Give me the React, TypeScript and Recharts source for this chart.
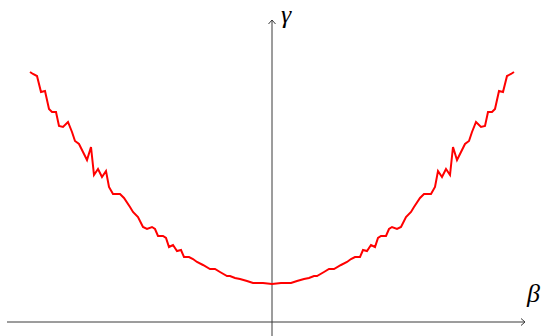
import { LineChart, Line, XAxis, YAxis, ReferenceLine } from "recharts";

// sampled curve, left to right
const betas = [
  -2.42, -2.39, -2.35, -2.31, -2.27, -2.23, -2.2, -2.16, -2.13, -2.09, -2.04, -2.0, -1.97, -1.93,
  -1.89, -1.85, -1.81, -1.78, -1.74, -1.7, -1.66, -1.63, -1.59, -1.52, -1.48, -1.42, -1.39, -1.34,
  -1.29, -1.25, -1.2, -1.17, -1.14, -1.09, -1.06, -1.03, -0.99, -0.95, -0.91, -0.88, -0.83, -0.79,
  -0.75, -0.69, -0.62, -0.57, -0.52, -0.45, -0.42, -0.37, -0.32, -0.25, -0.19, -0.09, 0,
  0.09, 0.19, 0.25, 0.32, 0.37, 0.42, 0.45, 0.52, 0.57, 0.62, 0.69, 0.75, 0.79, 0.83, 0.88, 0.91,
  0.95, 0.99, 1.03, 1.06, 1.09, 1.14, 1.17, 1.2, 1.25, 1.29, 1.34, 1.39, 1.42, 1.48, 1.52, 1.59,
  1.63, 1.66, 1.7, 1.74, 1.78, 1.81, 1.85, 1.89, 1.93, 1.97, 2.0, 2.04, 2.09, 2.13, 2.16, 2.2,
  2.23, 2.27, 2.31, 2.35, 2.39, 2.42,
];

const gammas = [
  2.5, 2.48, 2.46, 2.3, 2.31, 2.13, 2.1, 2.1, 1.96, 1.95, 2.0, 1.9, 1.81, 1.78,
  1.7, 1.62, 1.75, 1.47, 1.53, 1.45, 1.51, 1.35, 1.28, 1.28, 1.24, 1.15, 1.1, 1.05,
  0.95, 0.93, 0.95, 0.93, 0.86, 0.86, 0.84, 0.75, 0.77, 0.71, 0.72, 0.65, 0.65, 0.63,
  0.6, 0.57, 0.53, 0.53, 0.5, 0.46, 0.46, 0.44, 0.43, 0.41, 0.39, 0.39, 0.38,
  0.39, 0.39, 0.41, 0.43, 0.44, 0.46, 0.46, 0.5, 0.53, 0.53, 0.57, 0.6, 0.63, 0.65, 0.65, 0.72,
  0.71, 0.77, 0.75, 0.84, 0.86, 0.86, 0.93, 0.95, 0.93, 0.95, 1.05, 1.1, 1.15, 1.24, 1.28, 1.28,
  1.35, 1.51, 1.45, 1.53, 1.47, 1.75, 1.62, 1.7, 1.78, 1.81, 1.9, 2.0, 1.95, 1.96, 2.1, 2.1,
  2.13, 2.31, 2.3, 2.46, 2.48, 2.5,
];

const data = betas.map((b, i) => ({ beta: b, gamma: gammas[i] }));

const W = 545;
const H = 336;
const axisColor = "#3a3a3a";
const labelStyle = {
  position: "absolute" as const,
  fontFamily: "'Liberation Serif', 'DejaVu Serif', serif",
  fontStyle: "italic",
  fontSize: 26,
  lineHeight: "26px",
  color: "#000",
};

export default function App() {
  return (
    <div style={{ position: "absolute", left: 0, top: 0, width: W, height: H, background: "#fff" }}>
      <LineChart width={W} height={H} data={data} margin={{ top: 0, right: 0, bottom: 0, left: 0 }}>
        <XAxis type="number" dataKey="beta" domain={[-2.72, 2.73]} hide />
        <YAxis type="number" domain={[-0.14, 3.22]} hide />
        {/* horizontal axis with arrow */}
        <ReferenceLine segment={[{ x: -2.65, y: 0 }, { x: 2.53, y: 0 }]} stroke={axisColor} strokeWidth={1} ifOverflow="visible" />
        <ReferenceLine segment={[{ x: 2.49, y: 0.035 }, { x: 2.53, y: 0 }]} stroke={axisColor} strokeWidth={1} ifOverflow="visible" />
        <ReferenceLine segment={[{ x: 2.49, y: -0.035 }, { x: 2.53, y: 0 }]} stroke={axisColor} strokeWidth={1} ifOverflow="visible" />
        {/* vertical axis with arrow */}
        <ReferenceLine segment={[{ x: 0, y: -0.14 }, { x: 0, y: 3.02 }]} stroke={axisColor} strokeWidth={1} ifOverflow="visible" />
        <ReferenceLine segment={[{ x: -0.035, y: 2.98 }, { x: 0, y: 3.02 }]} stroke={axisColor} strokeWidth={1} ifOverflow="visible" />
        <ReferenceLine segment={[{ x: 0.035, y: 2.98 }, { x: 0, y: 3.02 }]} stroke={axisColor} strokeWidth={1} ifOverflow="visible" />
        <Line
          type="linear"
          dataKey="gamma"
          stroke="#ff0000"
          strokeWidth={2}
          dot={false}
          activeDot={false}
          isAnimationActive={false}
        />
      </LineChart>
      <span style={{ ...labelStyle, left: 281, top: 2 }}>γ</span>
      <span style={{ ...labelStyle, left: 527, top: 281 }}>β</span>
    </div>
  );
}
